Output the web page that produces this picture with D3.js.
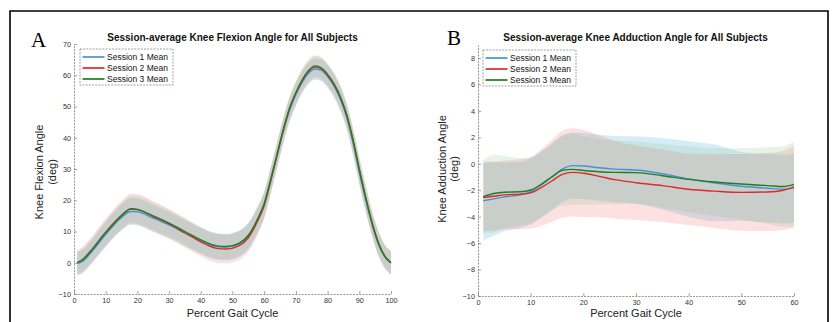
<!DOCTYPE html>
<html>
<head>
<meta charset="utf-8">
<script src="https://cdn.jsdelivr.net/npm/d3@7"></script>
<style>
html,body{margin:0;padding:0;background:#fff;}
svg{display:block;}
text{font-family:"Liberation Sans",Arial,Helvetica,sans-serif;}
</style>
</head>
<body>
<svg id="chart" width="832" height="322"></svg>
<script>
// ---------- DATA ----------
const seriesNames = ["Session 1 Mean", "Session 2 Mean", "Session 3 Mean"];

// Panel A: knee flexion (deg) vs percent gait cycle
const flexX = [1,3,5,10,15,18,20,25,30,35,40,45,48,52,55,58,60,62,64,66,68,70,72,74,76,78,80,82,84,86,88,90,92,94,96,98,100];
const flexS1 = [-0.3,0.6,2.8,9.0,14.5,16.4,16.3,14.3,12.1,9.5,7.0,5.2,5.0,6.0,8.5,13.8,18.5,26.0,34.0,42.0,48.8,53.8,57.8,60.6,62.0,61.6,59.6,56.6,52.4,46.6,38.5,29.0,20.2,12.4,6.0,2.0,-0.1];
const flexS2 = [0.0,1.3,3.5,9.8,15.2,17.3,17.1,14.8,12.4,9.6,6.7,4.6,4.4,5.4,8.0,13.5,18.3,26.0,34.2,42.3,49.3,54.3,58.3,61.2,62.6,62.1,60.0,57.0,52.9,47.2,39.2,29.7,20.8,12.8,6.3,2.1,0.0];
const flexS3 = [0.0,1.2,3.3,9.6,15.0,17.2,17.0,15.0,12.7,10.0,7.3,5.4,5.2,6.2,8.8,14.2,19.0,26.5,34.5,42.5,49.5,54.5,58.5,61.5,63.0,62.4,60.3,57.3,53.2,47.5,39.5,30.0,21.0,13.0,6.5,2.2,0.0];
const flexSd1 = [3.6,3.7,3.8,4.0,4.2,4.3,4.3,4.3,4.2,4.2,4.2,4.2,4.2,4.2,4.2,4.1,4.0,4.0,3.9,3.8,3.7,3.6,3.5,3.4,3.4,3.5,3.6,3.7,3.8,3.9,4.0,4.0,3.9,3.8,3.7,3.6,3.6];
const flexSd2 = [4.0,4.1,4.2,4.4,4.6,4.8,4.9,4.9,4.8,4.7,4.6,4.6,4.6,4.6,4.5,4.5,4.4,4.3,4.2,4.1,4.0,3.9,3.8,3.7,3.6,3.6,3.7,3.8,3.9,4.0,4.1,4.2,4.2,4.1,4.0,3.9,3.9];
const flexSd3 = [3.7,3.7,3.8,4.0,4.2,4.3,4.4,4.4,4.3,4.2,4.2,4.1,4.1,4.1,4.1,4.0,4.0,3.9,3.8,3.7,3.6,3.5,3.4,3.4,3.4,3.4,3.4,3.5,3.6,3.7,3.8,3.9,3.9,3.8,3.7,3.6,3.6];
const flexXTicks = [0,10,20,30,40,50,60,70,80,90,100];
const flexYTicks = [-10,0,10,20,30,40,50,60,70];

// Panel B: knee adduction (deg) vs percent gait cycle
const addX = [1,3,5,8,10,12,14,16,18,20,23,26,30,35,40,45,50,55,58,60];
const addS1 = [-2.8,-2.65,-2.5,-2.35,-2.1,-1.6,-1.0,-0.4,-0.14,-0.17,-0.3,-0.4,-0.47,-0.75,-1.15,-1.45,-1.7,-1.85,-1.92,-1.82];
const addS2 = [-2.55,-2.45,-2.35,-2.3,-2.2,-1.8,-1.3,-0.8,-0.65,-0.72,-0.95,-1.2,-1.43,-1.65,-1.93,-2.07,-2.16,-2.13,-2.0,-1.75];
const addS3 = [-2.49,-2.25,-2.15,-2.12,-1.98,-1.55,-1.0,-0.5,-0.42,-0.5,-0.6,-0.65,-0.67,-0.9,-1.18,-1.38,-1.53,-1.65,-1.72,-1.56];
const addSd1 = [3.0,2.8,2.6,2.5,2.5,2.5,2.5,2.5,2.5,2.5,2.5,2.5,2.55,2.7,2.85,2.9,2.6,2.6,2.6,2.6];
const addSd2 = [2.55,2.6,2.6,2.65,2.7,2.9,3.1,3.3,3.33,3.3,3.1,2.95,2.82,2.75,2.7,2.8,2.9,2.95,3.0,3.1];
const addSd3 = [2.77,2.95,2.75,2.55,2.5,2.5,2.55,2.65,2.7,2.6,2.5,2.4,2.37,2.4,2.5,2.55,2.7,2.9,3.05,3.2];
const addXTicks = [0,10,20,30,40,50,60];
const addYTicks = [-10,-8,-6,-4,-2,0,2,4,6,8];

// ---------- STYLE ----------
const lineColors = ["#4a8fdc", "#d92b2b", "#1f7f1f"];
const bandColors = ["#1e9ad6", "#f55a5a", "#7dbd7d"];
const bandOpacity = 0.18;

const svg = d3.select("#chart");

// outer frame
svg.append("path")
  .attr("d", "M10,323V11H828V323")
  .attr("fill", "none").attr("stroke", "#000").attr("stroke-width", 1.6);

function panel(cfg) {
  const x = d3.scaleLinear().domain(cfg.xDomain).range([cfg.left, cfg.right]);
  const y = d3.scaleLinear().domain(cfg.yDomain).range([cfg.bottom, cfg.top]);
  const g = svg.append("g");

  const area = d3.area().curve(d3.curveMonotoneX)
    .x(d => x(d.x)).y0(d => y(d.m - d.s)).y1(d => y(d.m + d.s));
  const line = d3.line().curve(d3.curveMonotoneX)
    .x(d => x(d.x)).y(d => y(d.m));

  const data = cfg.means.map((m, i) => cfg.xs.map((xv, j) => ({x: xv, m: m[j], s: cfg.sds[i][j]})));

  data.forEach((d, i) => {
    g.append("path").attr("d", area(d))
      .attr("fill", bandColors[i]).attr("fill-opacity", bandOpacity).attr("stroke", "none");
  });
  data.forEach((d, i) => {
    g.append("path").attr("d", line(d))
      .attr("fill", "none").attr("stroke", lineColors[i]).attr("stroke-width", 1.4);
  });

  // axes
  const ax = g.append("g").attr("transform", `translate(0,${cfg.bottom})`)
    .call(d3.axisBottom(x).tickValues(cfg.xTicks).tickSizeInner(-3).tickSizeOuter(0).tickPadding(4));
  const ay = g.append("g").attr("transform", `translate(${cfg.left},0)`)
    .call(d3.axisLeft(y).tickValues(cfg.yTicks).tickSizeInner(-3).tickSizeOuter(0).tickPadding(3));
  [ax, ay].forEach(a => {
    a.select(".domain").attr("stroke", "#8a8a8a").attr("stroke-dasharray", "2,1.2").attr("stroke-width", 0.9);
    a.selectAll(".tick line").attr("stroke", "#8a8a8a").attr("stroke-width", 0.8);
    a.selectAll(".tick text").attr("fill", "#333").style("font-size", "7.3px")
      .style("font-family", '"Liberation Sans",Arial,sans-serif');
  });

  // title
  svg.append("text").attr("x", (cfg.left + cfg.right) / 2 + cfg.titleDx).attr("y", 41)
    .attr("text-anchor", "middle").style("font-size", "10px").style("font-weight", "bold")
    .attr("fill", "#111").text(cfg.title);
  // panel letter
  svg.append("text").attr("x", cfg.letterX).attr("y", cfg.letterY)
    .style("font-family", '"Liberation Serif","Times New Roman",serif').style("font-size", "21px")
    .attr("fill", "#000").text(cfg.letter);
  // x label
  svg.append("text").attr("x", (cfg.left + cfg.right) / 2).attr("y", 317)
    .attr("text-anchor", "middle").style("font-size", "11px").attr("fill", "#222").text("Percent Gait Cycle");
  // y label (two lines)
  const cy = cfg.ylabelY;
  svg.append("text").attr("transform", `translate(${cfg.ylabelX1},${cy}) rotate(-90)`)
    .attr("text-anchor", "middle").style("font-size", "11px").attr("fill", "#222").text(cfg.ylabel);
  svg.append("text").attr("transform", `translate(${cfg.ylabelX2},${cy}) rotate(-90)`)
    .attr("text-anchor", "middle").style("font-size", "11px").attr("fill", "#222").text("(deg)");

  // legend
  const lg = svg.append("g").attr("transform", `translate(${cfg.legX},${cfg.legY})`);
  lg.append("rect").attr("x", 0).attr("y", 0).attr("width", 93).attr("height", 36)
    .attr("fill", "#fff").attr("stroke", "#888").attr("stroke-width", 0.8).attr("stroke-dasharray", "2,1.2");
  seriesNames.forEach((nm, i) => {
    const yy = 8 + i * 11;
    lg.append("line").attr("x1", 2.5).attr("x2", 24.5).attr("y1", yy).attr("y2", yy)
      .attr("stroke", lineColors[i]).attr("stroke-width", 2).attr("stroke-opacity", 0.85);
    lg.append("text").attr("x", 27).attr("y", yy + 3).style("font-size", "8.5px").attr("fill", "#111").text(nm);
  });
}

panel({
  left: 74, right: 391, top: 44, bottom: 294,
  xDomain: [0, 100], yDomain: [-10, 70],
  xs: flexX, means: [flexS1, flexS2, flexS3], sds: [flexSd1, flexSd2, flexSd3],
  xTicks: flexXTicks, yTicks: flexYTicks,
  title: "Session-average Knee Flexion Angle for All Subjects", titleDx: 0,
  letter: "A", letterX: 31, letterY: 47,
  ylabel: "Knee Flexion Angle", ylabelX1: 43, ylabelX2: 56, ylabelY: 172,
  legX: 80, legY: 49
});

panel({
  left: 478, right: 794, top: 44.8, bottom: 296,
  xDomain: [0, 60], yDomain: [-10, 9],
  xs: addX, means: [addS1, addS2, addS3], sds: [addSd1, addSd2, addSd3],
  xTicks: addXTicks, yTicks: addYTicks,
  title: "Session-average Knee Adduction Angle for All Subjects", titleDx: -0.5,
  letter: "B", letterX: 447, letterY: 45,
  ylabel: "Knee Adduction Angle", ylabelX1: 446, ylabelX2: 458, ylabelY: 169,
  legX: 483, legY: 50
});
</script>
</body>
</html>
